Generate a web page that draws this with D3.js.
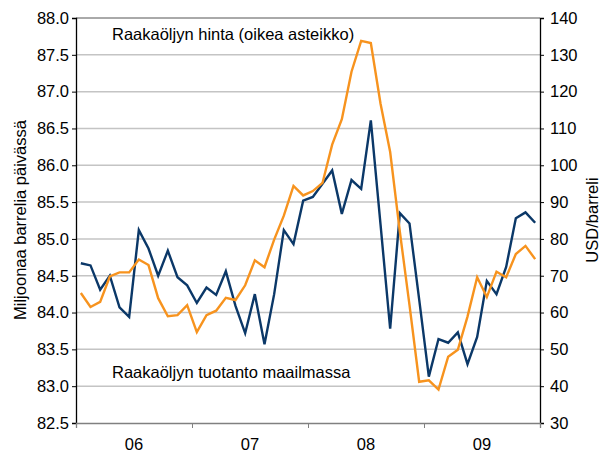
<!DOCTYPE html>
<html lang="fi">
<head>
  <meta charset="UTF-8">
  <title>Raakaöljyn tuotanto ja hinta</title>
  <script src="https://d3js.org/d3.v7.min.js"></script>
  <style>
    body { margin: 0; background: #fff; }
    svg { display: block; font-family: "Liberation Sans", Arial, sans-serif; }
  </style>
</head>
<body>
<svg id="chart" width="605" height="457"></svg>
<script>
// kuukausittain 1/2006 - 12/2009
const yearLabels = ["06", "07", "08", "09"];

// Raakaöljyn tuotanto maailmassa, milj. barrelia / päivä (vasen asteikko)
const production = [
  84.67, 84.64, 84.31, 84.50, 84.07, 83.94, 85.12, 84.87, 84.50, 84.84, 84.48, 84.37,
  84.13, 84.34, 84.24, 84.56, 84.09, 83.72, 84.25, 83.57, 84.25, 85.12, 84.93, 85.52,
  85.57, 85.75, 85.93, 85.34, 85.80, 85.68, 86.61, 85.20, 83.78, 85.35, 85.21, 84.18,
  83.13, 83.64, 83.59, 83.73, 83.30, 83.67, 84.43, 84.25, 84.62, 85.28, 85.36, 85.22
];

// Raakaöljyn hinta, USD/barreli (oikea asteikko)
const price = [
  65.3, 61.5, 62.9, 69.8, 70.9, 70.9, 74.4, 72.9, 63.9, 59.0, 59.3, 62.0,
  54.7, 59.3, 60.5, 64.0, 63.4, 67.4, 74.2, 72.3, 79.8, 86.3, 94.4, 91.8,
  93.0, 95.2, 105.6, 112.5, 125.4, 133.8, 133.2, 116.8, 103.6, 82.0, 62.0, 41.2,
  41.6, 39.1, 48.0, 49.9, 58.9, 69.6, 64.2, 71.1, 69.6, 75.9, 78.1, 74.5
];

const leftTicks = d3.range(82.5, 88.01, 0.5);
const rightTicks = d3.range(30, 141, 10);

const plotLeft = 76, plotRight = 540, plotTop = 18, plotBottom = 423;
const fontSize = "16.5px";
const svg = d3.select("#chart");

const x = d3.scaleLinear().domain([0, production.length]).range([plotLeft, plotRight]);
const yL = d3.scaleLinear().domain([82.5, 88]).range([plotBottom, plotTop]);
const yR = d3.scaleLinear().domain([30, 140]).range([plotBottom, plotTop]);

// vaakaviivat
svg.append("g")
  .selectAll("line")
  .data(leftTicks.filter(v => v > 82.6 && v < 87.9))
  .join("line")
  .attr("x1", plotLeft).attr("x2", plotRight)
  .attr("y1", d => yL(d)).attr("y2", d => yL(d))
  .attr("stroke", "#c4c4c4")
  .attr("stroke-width", 1.5);

// yläreuna
svg.append("line")
  .attr("x1", plotLeft).attr("x2", plotRight)
  .attr("y1", plotTop).attr("y2", plotTop)
  .attr("stroke", "#555").attr("stroke-width", 1);

// vasen akseli
const axL = svg.append("g")
  .attr("transform", `translate(${plotLeft},0)`)
  .call(d3.axisLeft(yL).tickValues(leftTicks).tickFormat(d3.format(".1f")).tickSize(4).tickPadding(3));
axL.select(".domain").attr("stroke", "#000").attr("stroke-width", 1.3);
axL.selectAll(".tick line").attr("stroke", "#000");
axL.selectAll("text").attr("font-size", fontSize).attr("fill", "#000").attr("font-family", "Liberation Sans, Arial, sans-serif");

// oikea akseli
const axR = svg.append("g")
  .attr("transform", `translate(${plotRight},0)`)
  .call(d3.axisRight(yR).tickValues(rightTicks).tickSize(4).tickPadding(6));
axR.select(".domain").attr("stroke", "#000").attr("stroke-width", 1.3);
axR.selectAll(".tick line").attr("stroke", "#000");
axR.selectAll("text").attr("font-size", fontSize).attr("fill", "#000").attr("font-family", "Liberation Sans, Arial, sans-serif");

// x-akseli: vuosien rajat
const axX = svg.append("g")
  .attr("transform", `translate(0,${plotBottom})`)
  .call(d3.axisBottom(x).tickValues(d3.range(0, 49, 12)).tickSize(5).tickFormat(""));
axX.select(".domain").attr("stroke", "#808080").attr("stroke-width", 1.3);
axX.selectAll(".tick line").attr("stroke", "#808080");

svg.append("g")
  .selectAll("text")
  .data(yearLabels)
  .join("text")
  .attr("x", (d, i) => x(i * 12 + 6))
  .attr("y", 450)
  .attr("text-anchor", "middle")
  .attr("font-size", fontSize)
  .text(d => d);

// sarjat
const lineL = d3.line().x((d, i) => x(i + 0.5)).y(d => yL(d));
const lineR = d3.line().x((d, i) => x(i + 0.5)).y(d => yR(d));

svg.append("path")
  .attr("d", lineL(production))
  .attr("fill", "none")
  .attr("stroke", "#0b3868")
  .attr("stroke-width", 2.4)
  .attr("stroke-linejoin", "miter");

svg.append("path")
  .attr("d", lineR(price))
  .attr("fill", "none")
  .attr("stroke", "#f7931e")
  .attr("stroke-width", 2.4)
  .attr("stroke-linejoin", "miter");

// tekstit
svg.append("text")
  .attr("x", 112).attr("y", 40)
  .attr("font-size", fontSize)
  .text("Raakaöljyn hinta (oikea asteikko)");

svg.append("text")
  .attr("x", 112).attr("y", 378)
  .attr("font-size", fontSize)
  .text("Raakaöljyn tuotanto maailmassa");

svg.append("text")
  .attr("transform", "translate(26,220) rotate(-90)")
  .attr("text-anchor", "middle")
  .attr("font-size", fontSize)
  .text("Miljoonaa barrelia päivässä");

svg.append("text")
  .attr("transform", "translate(598,220) rotate(-90)")
  .attr("text-anchor", "middle")
  .attr("font-size", fontSize)
  .text("USD/barreli");
</script>
</body>
</html>
